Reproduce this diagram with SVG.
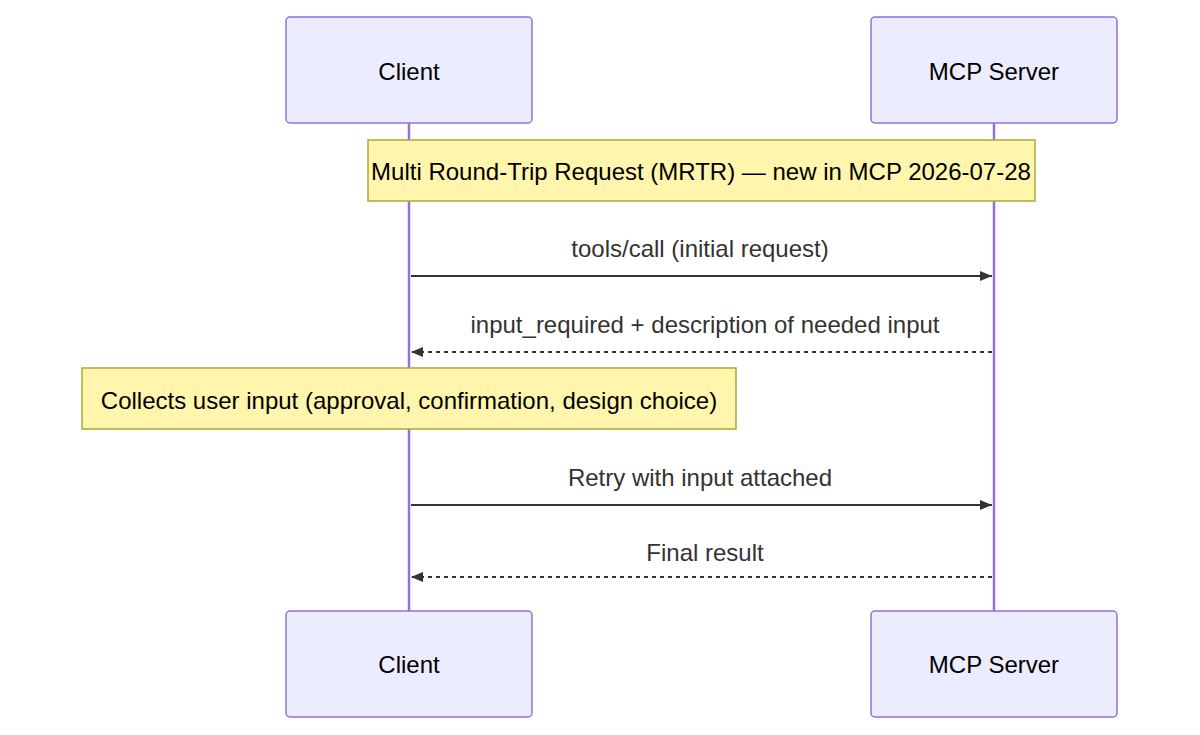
<svg xmlns="http://www.w3.org/2000/svg" width="1200" height="735" viewBox="0 0 1200 735">
<style>
.actor{fill:#ECECFF;stroke:#9370DB;stroke-width:1.5}
.life{stroke:#9370DB;stroke-width:2.5}
.note{fill:#FFF5AD;stroke:#AAAA33;stroke-width:1.5}
text{font-family:"Liberation Sans",Arial,sans-serif;font-size:24px;text-anchor:middle}
.at{fill:#000}
.msg{fill:#333}
.line{stroke:#333;stroke-width:2;fill:none}
.dash{stroke-dasharray:4 4}
</style>
<defs>
<marker id="ah" viewBox="0 0 12 10" refX="12" refY="5" markerWidth="12" markerHeight="10" markerUnits="userSpaceOnUse" orient="auto-start-reverse">
<path d="M0,0 L12,5 L0,10 z" fill="#333"/>
</marker>
</defs>
<g id="lifelines">
<line class="life" x1="409" y1="123" x2="409" y2="611"/>
<line class="life" x1="994" y1="123" x2="994" y2="611"/>
</g>
<g id="client-top"><rect class="actor" x="286" y="17" width="246" height="106" rx="4"/><text class="at" x="409" y="80">Client</text></g>
<g id="server-top"><rect class="actor" x="871" y="17" width="246" height="106" rx="4"/><text class="at" x="994" y="80">MCP Server</text></g>
<g id="client-bottom"><rect class="actor" x="286" y="611" width="246" height="106" rx="4"/><text class="at" x="409" y="673">Client</text></g>
<g id="server-bottom"><rect class="actor" x="871" y="611" width="246" height="106" rx="4"/><text class="at" x="994" y="673">MCP Server</text></g>
<g id="note1"><rect class="note" x="368" y="140" width="667" height="61"/><text class="at" x="701" y="180">Multi Round-Trip Request (MRTR) — new in MCP 2026-07-28</text></g>
<g id="note2"><rect class="note" x="82" y="368" width="654" height="61"/><text class="at" x="409" y="409">Collects user input (approval, confirmation, design choice)</text></g>
<g id="connectors">
<line class="line" x1="411" y1="276" x2="992" y2="276" marker-end="url(#ah)"/>
<text class="msg" x="700" y="257">tools/call (initial request)</text>
<line class="line dash" x1="992" y1="352" x2="411" y2="352" marker-end="url(#ah)"/>
<text class="msg" x="705" y="333">input_required + description of needed input</text>
<line class="line" x1="411" y1="505" x2="992" y2="505" marker-end="url(#ah)"/>
<text class="msg" x="700" y="486">Retry with input attached</text>
<line class="line dash" x1="992" y1="577" x2="411" y2="577" marker-end="url(#ah)"/>
<text class="msg" x="705" y="561">Final result</text>
</g>
</svg>
